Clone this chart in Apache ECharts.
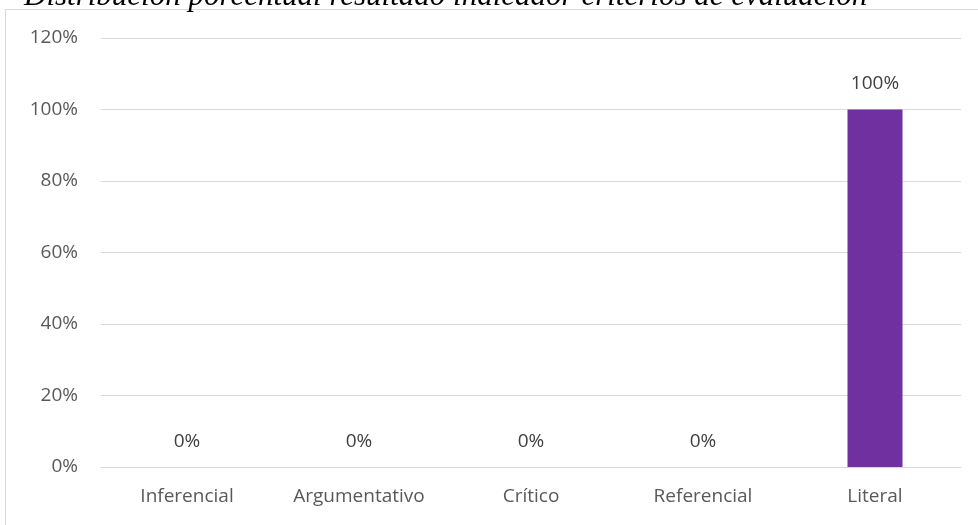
<!DOCTYPE html>
<html lang="es">
<head>
<meta charset="utf-8">
<style>
  html, body { margin: 0; padding: 0; background: #fff; }
  #chart { width: 978px; height: 525px; }
</style>
</head>
<body>
<div id="chart"></div>
<script src="https://cdn.jsdelivr.net/npm/echarts@6/dist/echarts.min.js"></script>
<script>
// datos
var categorias = ['Inferencial', 'Argumentativo', 'Crítico', 'Referencial', 'Literal'];
var valores = [0, 0, 0, 0, 100];
var titulo = 'Distribución porcentual resultado indicador criterios de evaluación';

var chart = echarts.init(document.getElementById('chart'));
var fuente = 'Open Sans';

var option = {
  animation: false,
  title: {
    text: titulo,
    left: 19,
    top: -24,
    textStyle: { fontFamily: 'Liberation Serif', fontStyle: 'italic', fontWeight: 'normal', fontSize: 31, color: '#000' }
  },
  graphic: [{
    type: 'rect',
    shape: { x: 5.5, y: 9.5, width: 990, height: 540 },
    style: { fill: 'none', stroke: '#d9d9d9', lineWidth: 1 },
    z: -1
  }],
  grid: { left: 101, right: 17, top: 38, bottom: 58, containLabel: false },
  xAxis: {
    type: 'category',
    data: categorias,
    axisLine: { lineStyle: { color: '#d9d9d9', width: 1 } },
    axisTick: { show: false },
    axisLabel: { color: '#595959', fontFamily: fuente, fontSize: 19, margin: 20 }
  },
  yAxis: {
    type: 'value',
    min: 0,
    max: 120,
    interval: 20,
    axisLine: { show: false },
    axisTick: { show: false },
    splitLine: { lineStyle: { color: '#d9d9d9', width: 1 } },
    axisLabel: { formatter: '{value}%', color: '#595959', fontFamily: fuente, fontSize: 19, margin: 23 }
  },
  series: [{
    type: 'bar',
    data: valores,
    barWidth: 55,
    itemStyle: { color: '#7030A0' },
    label: {
      show: true,
      position: 'top',
      distance: 16,
      formatter: '{c}%',
      color: '#404040',
      fontFamily: fuente,
      fontSize: 19
    }
  }]
};

chart.setOption(option);
</script>
</body>
</html>
